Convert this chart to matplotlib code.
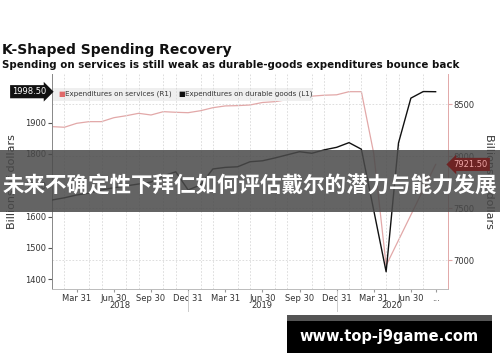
import numpy as np
import matplotlib.pyplot as plt
import matplotlib.transforms as mtransforms
from matplotlib.patches import Rectangle

# monthly points, Jan 2018 .. Aug 2020
months = np.arange(32)
durable = [1653, 1660, 1669, 1675, 1685, 1692, 1698, 1704, 1710, 1730, 1743, 1685,
           1701, 1752, 1757, 1759, 1775, 1778, 1787, 1797, 1807, 1802, 1813, 1821,
           1836, 1815, 1620, 1424, 1835, 1978, 1999, 1998.5]
services = [8285, 8279, 8317, 8333, 8333, 8371, 8390, 8413, 8397, 8429, 8423, 8419,
            8438, 8467, 8484, 8487, 8493, 8517, 8525, 8544, 8563, 8578, 8587, 8591,
            8621, 8621, 8027, 6950, 7193, 7436, 7679, 7921.5]
tick_pos = [2, 5, 8, 11, 14, 17, 20, 23, 26, 29, 31]
tick_lab = ['Mar 31', 'Jun 30', 'Sep 30', 'Dec 31'] * 2 + ['Mar 31', 'Jun 30', '...']
years = ['2018', '2019', '2020']
year_pos = [5.5, 17, 27.5]
year_sep = [11, 23]

pink = '#e2a8a8'
W, H = 500, 362
fig = plt.figure(figsize=(5, 3.62), dpi=100)
ax = fig.add_axes([52/W, 1-289/H, 396/W, 215/H])
ax2 = ax.twinx()

ax2.plot(months, services, color=pink, lw=0.9, zorder=2)
ax.plot(months, durable, color='#111111', lw=1.0, zorder=3)
ax.set_zorder(ax2.get_zorder() + 1)
ax.patch.set_visible(False)

ax.set_xlim(0, 32)
ax.set_ylim(1369, 2055)
ax2.set_ylim(6724, 8791)
ax.set_yticks([1400, 1500, 1600, 1700, 1800, 1900])
ax2.set_yticks([7000, 7500, 8000, 8500])
ax.set_xticks(tick_pos)
ax.set_xticklabels(tick_lab)
ax.set_xticks(months, minor=True)
ax.tick_params(axis='x', which='minor', length=0)
ax.tick_params(axis='x', length=2, color='#999999', labelsize=6, pad=1.5, labelcolor='#333333')
ax.tick_params(axis='y', length=3, color='#555555', labelsize=6, pad=1, labelcolor='#333333')
ax2.tick_params(axis='y', length=3, color=pink, labelsize=6, pad=1, labelcolor='#333333')

ax.grid(True, axis='x', which='minor', ls=(0, (2, 2)), color='#d8d8d8', lw=0.6)
ax2.grid(True, axis='y', ls=(0, (2, 2)), color='#d8d8d8', lw=0.6)
for s in ['top', 'right']:
    ax.spines[s].set_visible(False)
for s in ['top', 'left', 'bottom']:
    ax2.spines[s].set_visible(False)
ax.spines['left'].set_color('#888888')
ax.spines['bottom'].set_color('#bbbbbb')
ax2.spines['right'].set_color(pink)
for sp in [ax.spines['left'], ax.spines['bottom'], ax2.spines['right']]:
    sp.set_linewidth(0.7)

ax.set_ylabel('Billions of dollars', fontsize=8, color='#333333', labelpad=6)
ax2.set_ylabel('Billions of dollars', fontsize=8, color='#333333', rotation=270, labelpad=14)

# year row under the ticks
for y, p in zip(years, year_pos):
    ax.text(p, -0.075, y, transform=ax.get_xaxis_transform(), ha='center', va='center',
            fontsize=6, color='#333333')
for p in year_sep:
    ax.plot([p, p], [-0.01, -0.1], transform=ax.get_xaxis_transform(), color='#cccccc',
            lw=0.7, clip_on=False)

# legend box
ax.add_patch(Rectangle((0.002, 0.875), 0.655, 0.062, transform=ax.transAxes,
                       facecolor='#efefef', edgecolor='none', zorder=1))
ax.text(0.015, 0.906, '■', transform=ax.transAxes, color='#e06a6a', fontsize=5, va='center')
ax.text(0.033, 0.906, 'Expenditures on services (R1)', transform=ax.transAxes,
        color='#333333', fontsize=5.1, va='center')
ax.text(0.318, 0.906, '■', transform=ax.transAxes, color='#111111', fontsize=5, va='center')
ax.text(0.336, 0.906, 'Expenditures on durable goods (L1)', transform=ax.transAxes,
        color='#333333', fontsize=5.1, va='center')

# last value tags
ax.annotate(f'{durable[-1]:.2f}', xy=(0, durable[-1]), xycoords=('axes fraction', 'data'),
            xytext=(-4, 0), textcoords='offset points', ha='right', va='center',
            fontsize=6, color='white',
            bbox=dict(boxstyle='rarrow,pad=0.25', fc='#111111', ec='none'))
# the services tag sits above the banner, so it is a figure text
tag_tr = mtransforms.blended_transform_factory(ax2.transAxes, ax2.transData)
tag_tr = tag_tr + mtransforms.ScaledTranslation(4/72, 0, fig.dpi_scale_trans)
fig.text(1, services[-1], f'{services[-1]:.2f}', transform=tag_tr, ha='left', va='center',
         fontsize=6, color='#f0a8a8', zorder=12,
         bbox=dict(boxstyle='larrow,pad=0.25', fc='#6e2424', ec='none'))

fig.text(2/W, 1-50/H, 'K-Shaped Spending Recovery', fontsize=10, fontweight='bold',
         color='#111111', va='center', ha='left')
fig.text(2/W, 1-65/H, 'Spending on services is still weak as durable-goods expenditures bounce back',
         fontsize=7.4, fontweight='bold', color='#111111', va='center', ha='left')

# overlay banner
fig.patches.append(Rectangle((0, 1-212/H), 1, 62/H, transform=fig.transFigure,
                             facecolor='#4a4a4a', alpha=0.86, edgecolor='none', zorder=10))
fig.text(0.5, 1-186/H, '未来不确定性下拜仁如何评估戴尔的潜力与能力发展',
         family=['Noto Sans CJK SC', 'DejaVu Sans'], fontweight='bold', fontsize=15.5,
         color='white', ha='center', va='center', zorder=11)

# watermark
fig.patches.append(Rectangle((287/W, 1-321/H), 205/W, 6/H, transform=fig.transFigure,
                             facecolor='#555555', edgecolor='none', zorder=10))
fig.patches.append(Rectangle((287/W, 1-353/H), 205/W, 32/H, transform=fig.transFigure,
                             facecolor='#000000', edgecolor='none', zorder=10))
fig.text(389/W, 1-337/H, 'www.top-j9game.com', fontsize=10.5, fontweight='bold',
         color='white', ha='center', va='center', zorder=11)

fig.savefig('out.png', dpi=100)
